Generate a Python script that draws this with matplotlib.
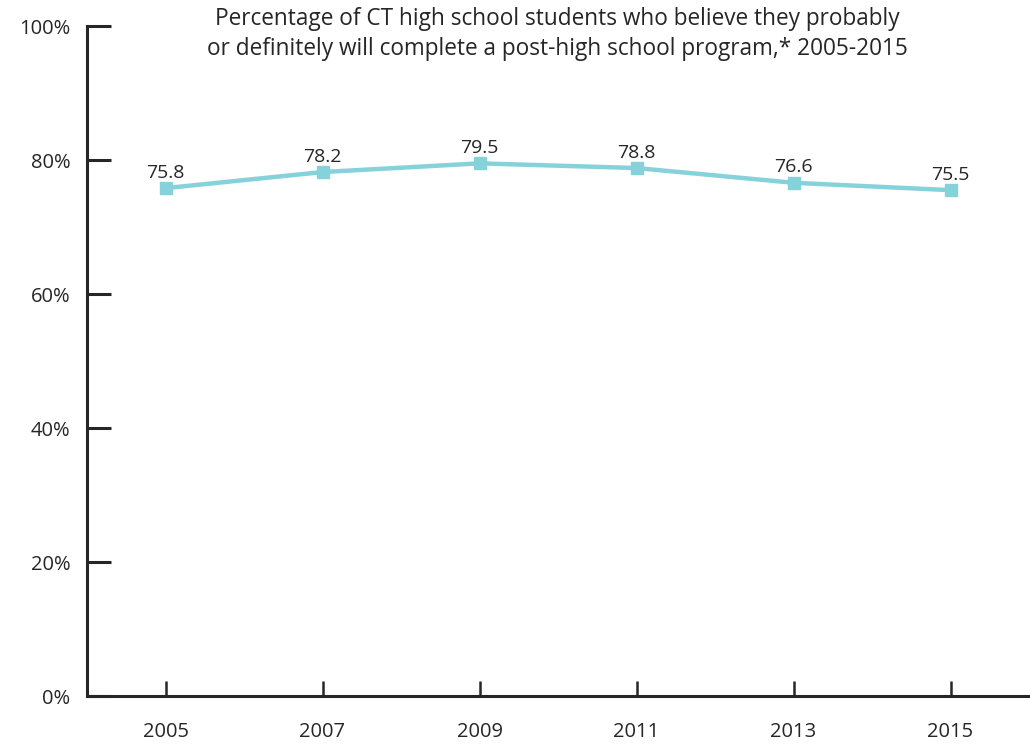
import matplotlib
matplotlib.use("Agg")
import matplotlib.pyplot as plt
from matplotlib.ticker import FuncFormatter

plt.rcParams['font.family'] = ['Open Sans', 'DejaVu Sans']

years = [2005, 2007, 2009, 2011, 2013, 2015]
values = [75.8, 78.2, 79.5, 78.8, 76.6, 75.5]
yticks = [0, 20, 40, 60, 80, 100]
title = ("Percentage of CT high school students who believe they probably\n"
         "or definitely will complete a post-high school program,* 2005-2015")

line_color = '#86D2DA'
ink = '#262626'

fig = plt.figure(figsize=(10.30, 7.44), dpi=100)
ax = fig.add_axes([87 / 1030, (744 - 696) / 744, (1029 - 87) / 1030, (696 - 26) / 744])

ax.plot(years, values, color=line_color, linewidth=3.2, marker='s',
        markersize=9, markerfacecolor=line_color, markeredgecolor=line_color)

for x, v in zip(years, values):
    ax.annotate(f"{v:.1f}", (x, v), xytext=(0, 7.5), textcoords='offset points',
                ha='center', va='baseline', fontsize=14, color=ink)

ax.set_xlim(2004, 2016)
ax.set_ylim(0, 100)
ax.set_xticks(years)
ax.set_yticks(yticks)
ax.yaxis.set_major_formatter(FuncFormatter(lambda v, p: f"{v:.0f}%"))

for s in ('top', 'right'):
    ax.spines[s].set_visible(False)
for s in ('left', 'bottom'):
    ax.spines[s].set_color(ink)
    ax.spines[s].set_linewidth(2.2)

ax.tick_params(axis='y', direction='in', length=17, width=2.2, color=ink,
               labelsize=14.5, labelcolor=ink, pad=12)
ax.tick_params(axis='x', direction='in', length=11, width=1.8, color=ink,
               labelsize=14.5, labelcolor=ink, pad=19)

fig.text(0.541, 0.990, title, ha='center', va='top', fontsize=16.3,
         color=ink, linespacing=1.32)

fig.savefig('out.png', dpi=100)
